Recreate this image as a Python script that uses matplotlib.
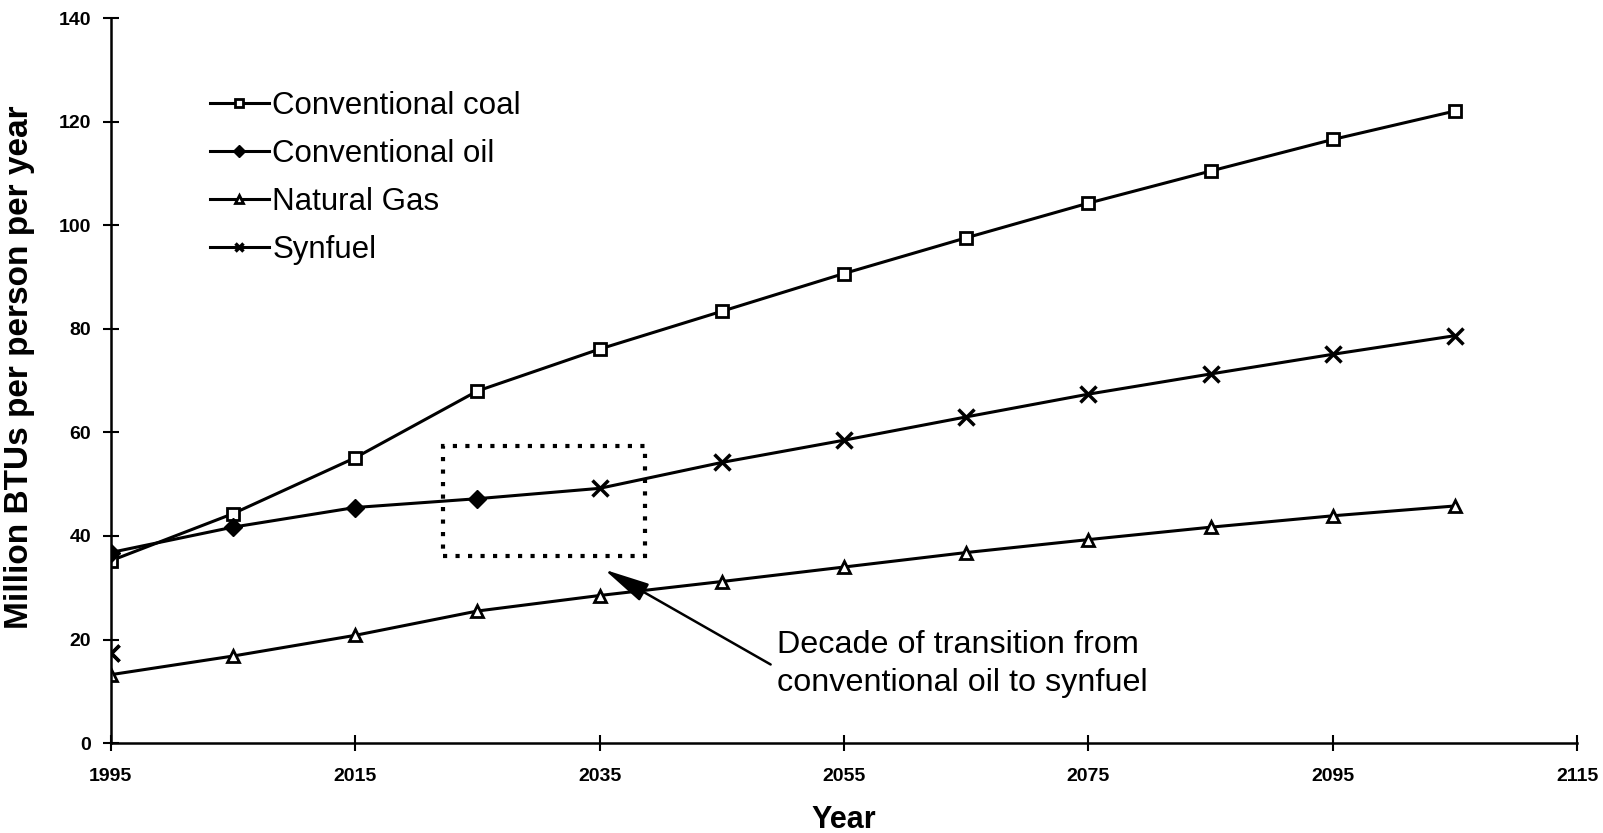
import matplotlib
matplotlib.use("Agg")
import matplotlib.pyplot as plt
import numpy as np
from matplotlib.patches import Rectangle

plt.rcParams['font.family'] = ['Liberation Sans', 'DejaVu Sans']

years = [1995, 2005, 2015, 2025, 2035, 2045, 2055, 2065, 2075, 2085, 2095, 2105]
coal = [35.2, 44.3, 55.1, 68.0, 76.1, 83.4, 90.7, 97.6, 104.3, 110.5, 116.6, 122.1]
oil = [36.8, 41.7, 45.5, 47.2, np.nan, np.nan, np.nan, np.nan, np.nan, np.nan, np.nan, np.nan]
gas = [13.2, 16.8, 20.8, 25.5, 28.5, 31.2, 34.0, 36.8, 39.3, 41.7, 43.9, 45.8]
synfuel = [17.4, np.nan, np.nan, 47.2, 49.2, 54.2, 58.5, 63.0, 67.4, 71.3, 75.1, 78.7]

labels = ["Conventional coal", "Conventional oil", "Natural Gas", "Synfuel"]
xticks = [1995, 2015, 2035, 2055, 2075, 2095, 2115]
yticks = [0, 20, 40, 60, 80, 100, 120, 140]

fig = plt.figure(figsize=(16.03, 8.33), dpi=100)
ax = fig.add_axes([0.069, 0.108, 0.915, 0.870])

lw = 2.2
common = dict(color='black', lw=lw, markersize=9, markeredgewidth=2.0)
l1, = ax.plot(years, coal, marker='s', markerfacecolor='white', label=labels[0], **common)
l2, = ax.plot(years, oil, marker='D', markerfacecolor='black', label=labels[1],
              color='black', lw=lw, markersize=9)
l3, = ax.plot(years, gas, marker='^', markerfacecolor='white', label=labels[2], **common)
syn_mark = [i for i, v in enumerate(synfuel) if not np.isnan(v) and i != 3]
l4, = ax.plot(years, synfuel, marker='x', markevery=syn_mark, label=labels[3],
              color='black', lw=lw, markersize=11, markeredgewidth=2.5)
# isolated first synfuel point
ax.plot(years[:1], synfuel[:1], marker='x', color='black', markersize=11,
        markeredgewidth=2.5, linestyle='none')

ax.set_xlim(1995, 2115)
ax.set_ylim(0, 140)
ax.set_xticks(xticks)
ax.set_yticks(yticks)
ax.tick_params(direction='inout', length=12, width=1.5, labelsize=14)
ax.tick_params(axis='x', pad=12)
ax.tick_params(axis='y', pad=8)
for t in ax.get_xticklabels() + ax.get_yticklabels():
    t.set_fontweight('bold')
for s in ['top', 'right']:
    ax.spines[s].set_visible(False)
for s in ['left', 'bottom']:
    ax.spines[s].set_linewidth(1.8)

ax.set_xlabel('Year', fontsize=22, fontweight='bold')
ax.xaxis.set_label_coords(0.5, -0.085)
ax.set_ylabel('Million BTUs per person per year', fontsize=24, fontweight='bold')
ax.yaxis.set_label_coords(-0.0515, 0.518)

# dotted box
rect = Rectangle((2022.2, 36.2), 16.5, 21.1, fill=False, linestyle=(0, (1.0, 2.0)),
                 lw=3.0, edgecolor='black')
ax.add_patch(rect)

ax.annotate('Decade of transition from\nconventional oil to synfuel',
            xy=(2035.4, 33.5), xytext=(2049.5, 15.3),
            fontsize=23.3, ha='left', va='center', linespacing=1.32,
            arrowprops=dict(arrowstyle='-|>,head_length=2.8,head_width=0.6',
                            mutation_scale=10,
                            color='black', lw=1.8, shrinkA=2, shrinkB=0,
                            relpos=(-0.01, 0.47)))

leg = ax.legend(handles=[l1, l2, l3, l4], loc='upper left',
                bbox_to_anchor=(0.1308, 0.891), bbox_transform=fig.transFigure,
                frameon=False, fontsize=22.5, handlelength=1.9, handletextpad=0.1,
                labelspacing=0.58, borderaxespad=0, borderpad=0)
for h in leg.legend_handles:
    h.set_markersize(6)

fig.savefig('out.png', dpi=100)
